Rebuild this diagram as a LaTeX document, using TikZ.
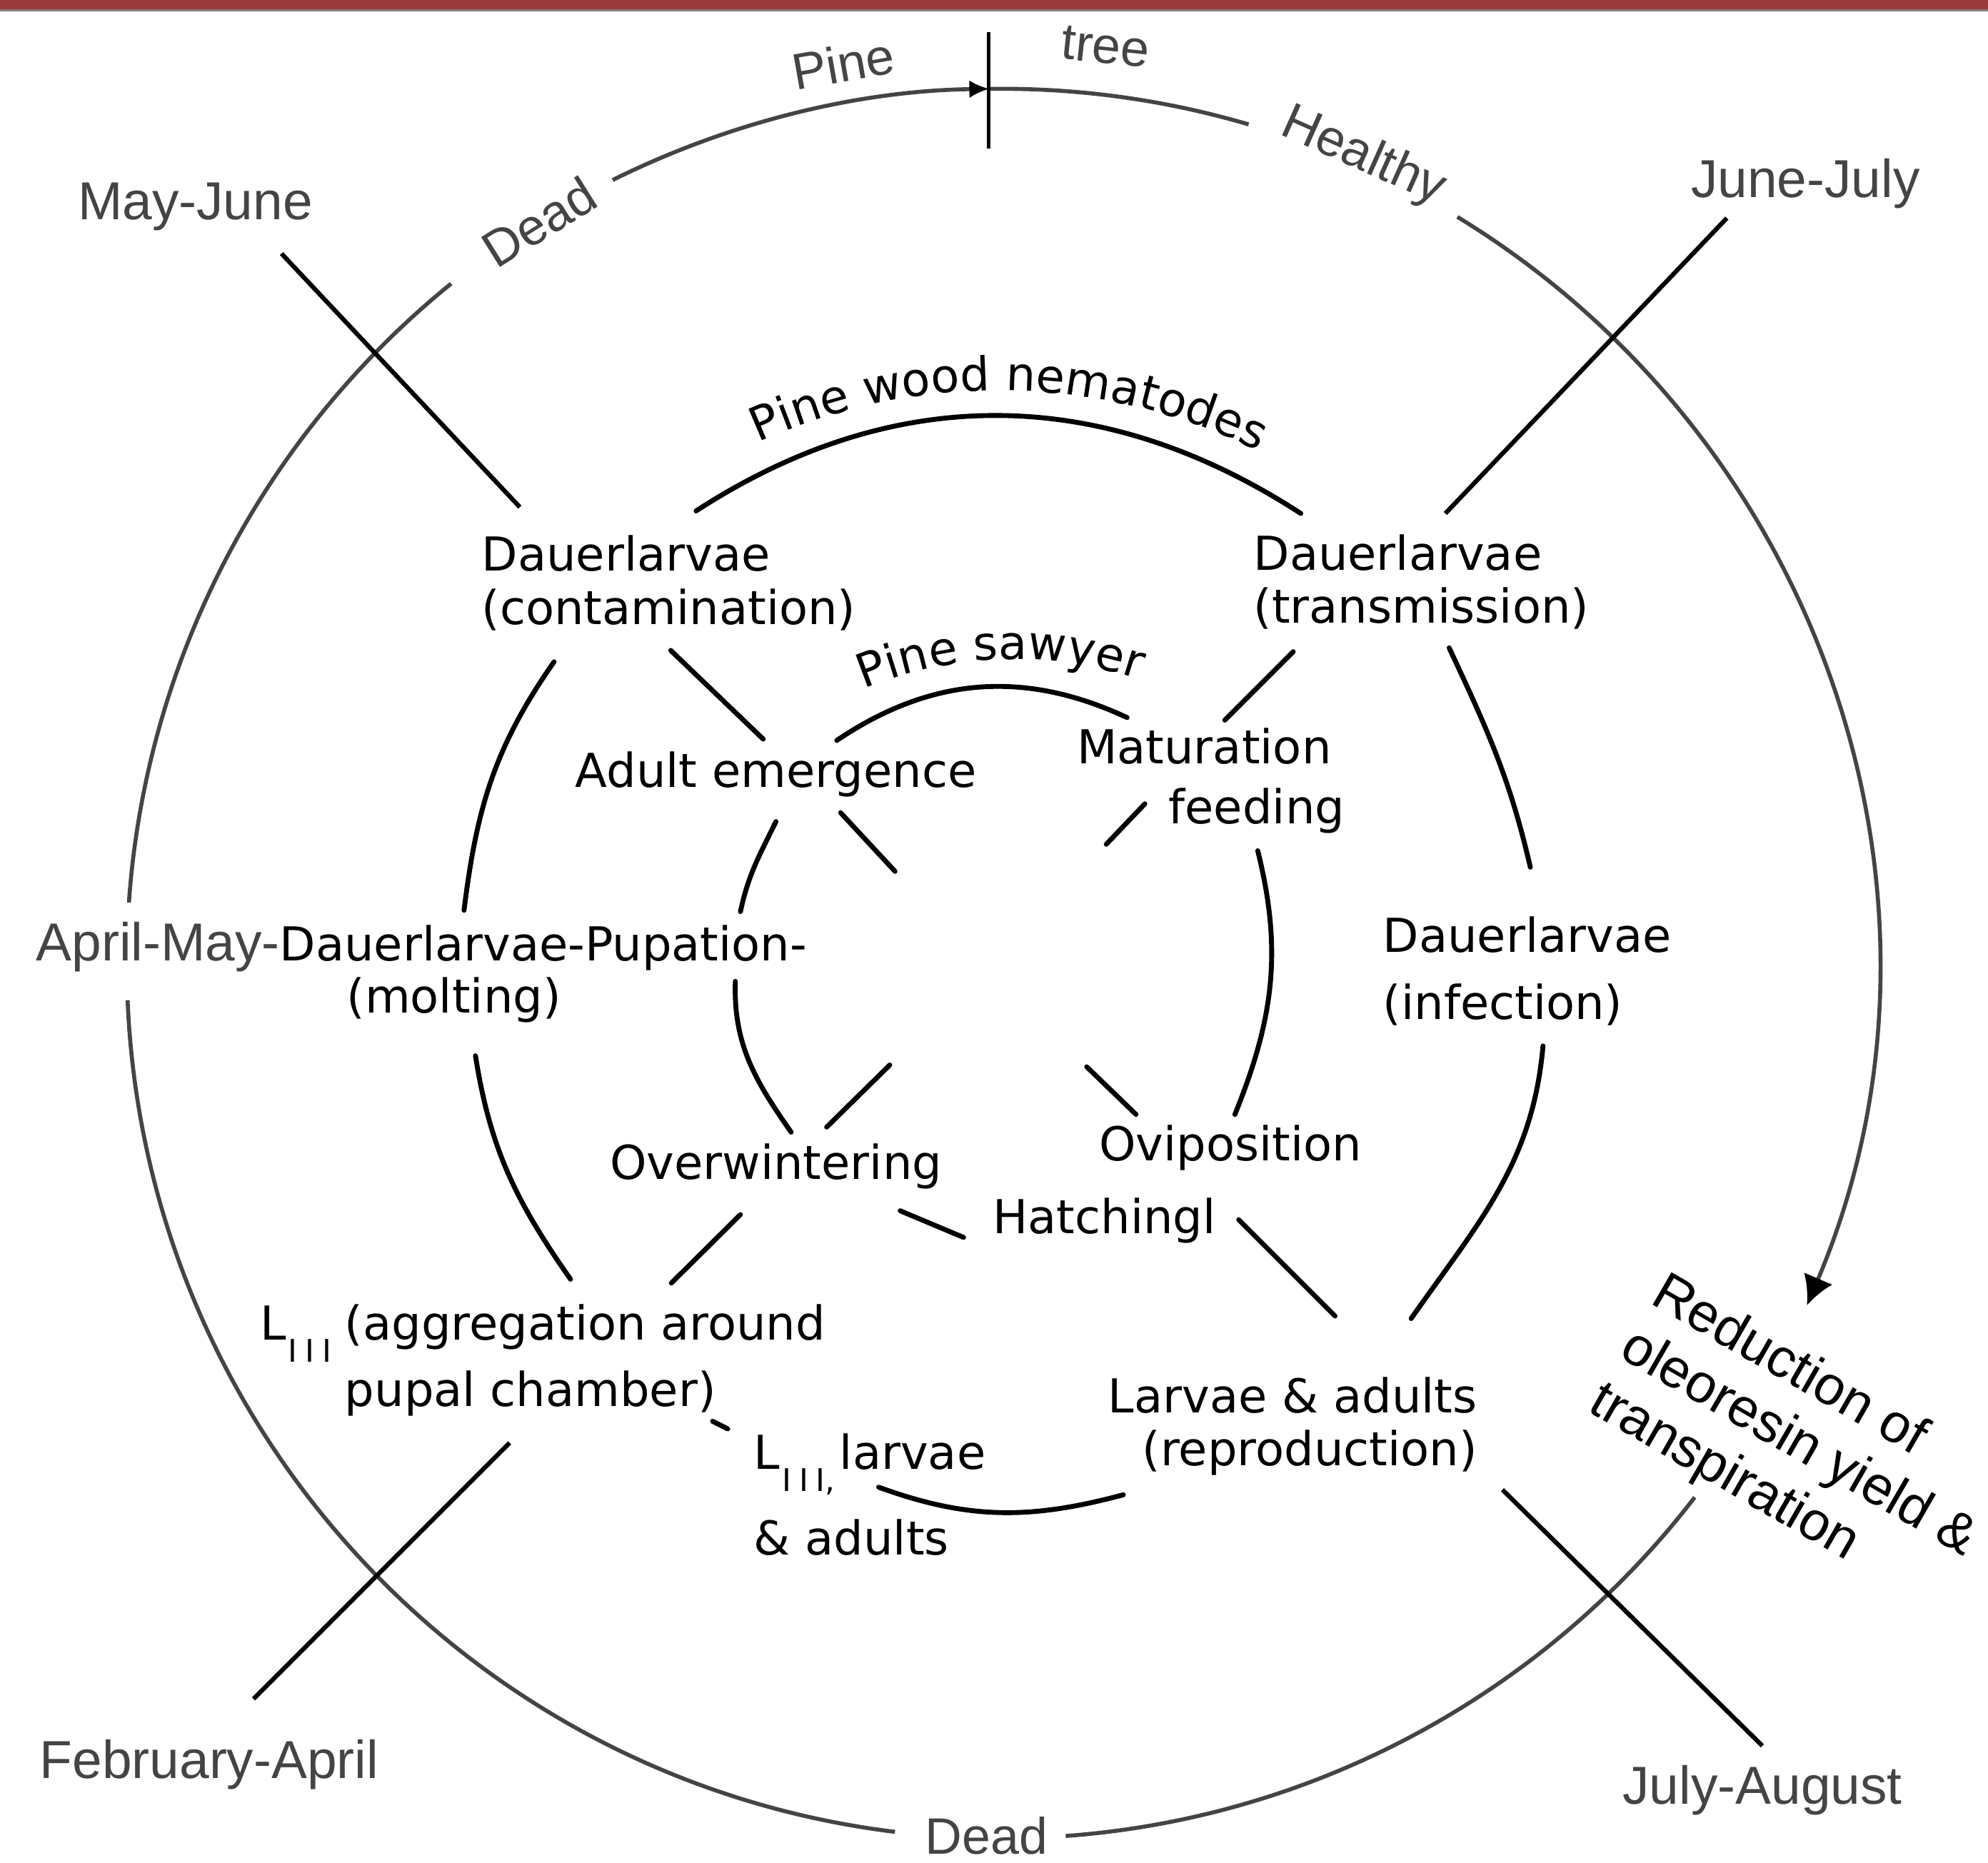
\documentclass[tikz,border=0pt]{standalone}
\usepackage{fontspec}
\setmainfont{DejaVu Sans}
\newfontfamily\monthfont{Liberation Sans}
\usepackage{xcolor}
\definecolor{cBar}{HTML}{983A3A}
\definecolor{cBarLine}{HTML}{7F7F7F}
\definecolor{cGray}{HTML}{444444}
\usepackage{tikz}
\usetikzlibrary{positioning,arrows.meta,decorations.text}
\newcommand{\stagefont}{\fontsize{21}{24}\selectfont}
\newcommand{\subIII}[1]{\raisebox{-10pt}{\fontsize{14}{14}\selectfont I\kern3.5pt I\kern3.5pt I#1}}
\tikzset{
  stage-label/.style={font=\stagefont,inner sep=0pt,align=center},
  month-label/.style={font=\monthfont\fontsize{24}{28}\selectfont,text=cGray,inner sep=0pt},
  tree-label/.style={font=\monthfont\fontsize{23}{27}\selectfont,text=cGray,inner sep=0pt},
  % three rings: pine tree (outer), nematode (middle), pine sawyer (inner)
  ring-line/.style={line width=2.2pt,draw=black,line cap=round},
  outer-ring/.style={line width=1.8pt,draw=cGray},
  month-line/.style={line width=2pt,draw=black},
}

\begin{document}
\begin{tikzpicture}[x=0.02cm,y=0.02cm]
  \useasboundingbox (0,0) rectangle (1568,-1469);
  \fill[cBar] (0,0) rectangle (1568,-7.5);
  \fill[cBarLine] (0,-7.5) rectangle (1568,-9);
  \coordinate (o) at (790,-760);
  \coordinate (hub) at (778,-765);

  % months and state of the tree
  \node[month-label] (mayjune)  at (154,-163)  {May-June};
  \node[month-label] (junejuly) at (1424,-145) {June-July};
  \node[month-label] (febapr)   at (165,-1392) {February-April};
  \node[month-label] (julyaug)  at (1390,-1412) {July-August};
  \node[tree-label,rotate=10]  (pine)    at (665,-50)  {Pine};
  \node[tree-label,rotate=-6]  (tree)    at (872,-37)  {tree};
  \node[tree-label,rotate=32]  (deadtop) at (425,-175) {Dead};
  \node[tree-label,rotate=-24] (healthy) at (1075,-124) {Healthy};
  \node[tree-label]            (deadbot) at (778,-1448) {Dead};
  \node[font=\monthfont\fontsize{24.5}{28}\selectfont,align=left,inner sep=0pt,rotate=-30,anchor=north west]
    (reduct) at (1316,-1000) {Reduction of\\oleoresin yield \&\\transpiration};

  % nematode stages
  \node[stage-label,align=left]  (contam) at (527.5,-460)  {Dauerlarvae\\(contamination)};
  \node[stage-label,align=left]  (transm) at (1121,-459)   {Dauerlarvae\\(transmission)};
  \node[stage-label,align=left]  (infect) at (1204.5,-766) {Dauerlarvae\\[6pt](infection)};
  \node[stage-label,align=right] (larvad) at (1019.5,-1125) {Larvae \& adults\\(reproduction)};
  \node[stage-label,align=left]  (l3larv) at (686,-1179)   {L\kern1pt\subIII{,}\kern2pt larvae\\[10pt]\& adults};
  \node[stage-label,align=left]  (l3agg)  at (461.5,-1073) {\leavevmode\llap{L\kern1pt\subIII{}\kern6pt}(aggregation around\\[3pt]pupal chamber)};
  \node[stage-label] (aprmay) at (332.5,-747) {{\monthfont\fontsize{24}{28}\selectfont\color{cGray}April-May-}Dauerlarvae-Pupation-};
  \node[stage-label,below=2pt of aprmay,xshift=0.51cm] (molting) {(molting)};

  % pine sawyer stages
  \node[stage-label] (adult) at (612,-611) {Adult emergence};
  \node[stage-label,align=right] (matur) at (955,-616) {Maturation\kern6pt\\[3pt]feeding};
  \node[stage-label] (ovipos) at (970.5,-905.5) {Oviposition};
  \node[stage-label] (overw) at (612,-920) {Overwintering};
  \node[stage-label] (hatch) at (871,-963) {Hatchingl};

  % outer ring
  \draw[outer-ring,-{Latex[length=9pt,width=8pt,color=black]}] (o) ++(116.4:690) arc[start angle=116.4,end angle=90.8,radius=690];
  \draw[outer-ring] (o) ++(90.8:690) arc[start angle=90.8,end angle=73.6,radius=690];
  \draw[line width=1.6pt] (o) ++(90.8:735) -- ++(0,-92);
  \draw[outer-ring,-{Latex[length=13pt,width=14pt,color=black]}] (o) ++(58.6:690) arc[start angle=58.6,end angle=-23,radius=690];
  \draw[outer-ring] (o) ++(-37.6:690) arc[start angle=-37.6,end angle=-85.8,radius=690];
  \draw[outer-ring] (o) ++(-97:690) arc[start angle=-97,end angle=-177.6,radius=690];
  \draw[outer-ring] (o) ++(176:690) arc[start angle=176,end angle=129,radius=690];

  % month lines
  \draw[month-line] ([shift={(68,-37)}]mayjune.center) -- ([shift={(-117.5,60)}]contam.center);
  \draw[month-line] ([shift={(-62,-27)}]junejuly.center) -- ([shift={(19,54)}]transm.center);
  \draw[month-line] ([shift={(35,52)}]febapr.center) -- ([shift={(-59.5,-65)}]l3agg.center);
  \draw[month-line] ([shift={(0,35)}]julyaug.center) -- ([shift={(165.5,-50)}]larvad.center);

  % nematode ring
  \path[decorate,decoration={text along path,text align=center,text={|\stagefont|Pine wood nematodes}}]
    (788,-769) ++(122:461) arc[start angle=122,end angle=56,radius=461];
  \draw[ring-line] ([shift={(21.5,57)}]contam.center) to[out=33,in=147] ([shift={(-95,54)}]transm.center);
  \draw[ring-line] ([shift={(22,-52)}]transm.center) to[out=-65,in=103] ([shift={(2.5,82)}]infect.center);
  \draw[ring-line] ([shift={(12.5,-59)}]infect.center) to[out=-95,in=55] ([shift={(93.5,85)}]larvad.center);
  \draw[ring-line] ([shift={(-133.5,-54)}]larvad.center) to[out=-165,in=-20] ([shift={(7,6)}]l3larv.center);
  \draw[ring-line] ([shift={(100.5,-48)}]l3agg.center) -- ([shift={(-112,52)}]l3larv.center);
  \draw[ring-line] ([shift={(-11.5,64)}]l3agg.center) to[out=125,in=-81] ([shift={(17,-44)}]molting.center);
  \draw[ring-line] ([shift={(33.5,29)}]aprmay.center) to[out=83,in=-125] ([shift={(-90.5,-62)}]contam.center);

  % pine sawyer ring
  \path[decorate,decoration={text along path,text align=center,text={|\stagefont|Pine sawyer}}]
    (800,-830) ++(120:310) arc[start angle=120,end angle=64,radius=310];
  \draw[ring-line] ([shift={(48,27)}]adult.center) to[out=34,in=155] ([shift={(-66,50)}]matur.center);
  \draw[ring-line] ([shift={(0,-37)}]adult.center) to[out=-116,in=78] ([shift={(251.5,28)}]aprmay.center);
  \draw[ring-line] ([shift={(247.5,-27)}]aprmay.center) to[out=-92,in=125] ([shift={(12,27)}]overw.center);
  \draw[ring-line] ([shift={(98,-35)}]overw.center) -- ([shift={(-111,-13)}]hatch.center);
  \draw[ring-line] ([shift={(37,-55)}]matur.center) to[out=-76,in=68] ([shift={(3.5,26.5)}]ovipos.center);

  % spokes between the rings
  \draw[ring-line] ([shift={(1.5,-53)}]contam.center) -- ([shift={(-10,28)}]adult.center);
  \draw[ring-line] ([shift={(-101,-55)}]transm.center) -- ([shift={(11,48)}]matur.center);
  \draw[ring-line] ([shift={(106,1)}]hatch.center) -- ([shift={(33.5,87)}]larvad.center);
  \draw[ring-line] ([shift={(-28,-38)}]overw.center) -- ([shift={(68,61)}]l3agg.center);
  \draw[ring-line,shorten >=2.12cm] ([shift={(51,-30)}]adult.center) -- (hub);
  \draw[ring-line,shorten >=2.74cm] ([shift={(-52,-18)}]matur.center) -- (hub);
  \draw[ring-line,shorten >=2.2cm] ([shift={(-74.5,26.5)}]ovipos.center) -- (hub);
  \draw[ring-line,shorten >=2.14cm] ([shift={(40,31)}]overw.center) -- (hub);
\end{tikzpicture}
\end{document}
